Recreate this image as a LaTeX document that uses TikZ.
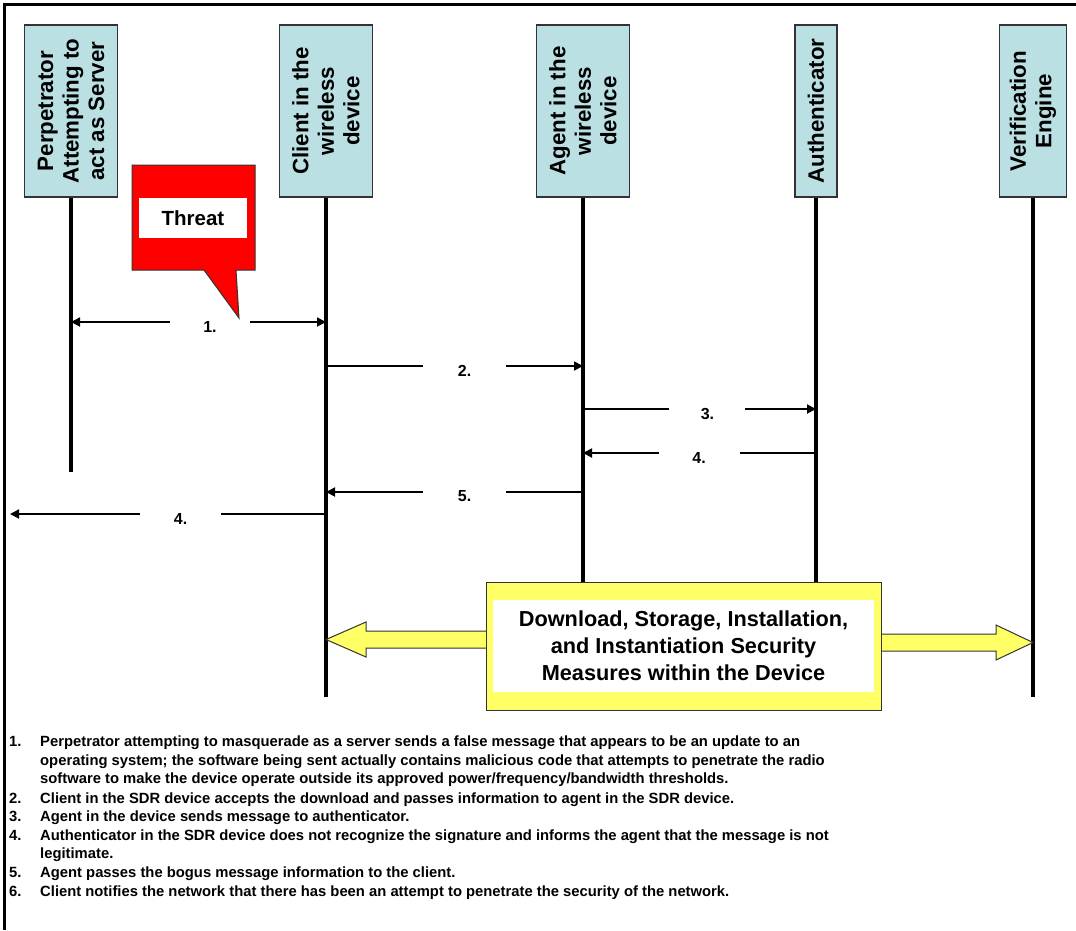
\documentclass[tikz,border=0pt]{standalone}
\usepackage{fontspec}
\setmainfont{Liberation Sans}
\usetikzlibrary{arrows.meta}
\definecolor{lifebox}{RGB}{187,224,227}
\definecolor{boxedge}{RGB}{51,51,51}
\definecolor{threatred}{RGB}{255,0,0}
\definecolor{measureyellow}{RGB}{255,255,102}

\begin{document}
\begin{tikzpicture}[x=1pt,y=-1pt,
  >={Triangle[length=9pt,width=9pt]},
  actor/.style={draw=boxedge, line width=1.4pt, fill=lifebox, rotate=90,
    minimum width=172pt, inner sep=0pt, align=center,
    font=\fontsize{22.3}{25.5}\selectfont\bfseries},
  lifeline/.style={line width=3.2pt},
  msg/.style={line width=1.8pt},
  gapbox/.style={fill=white, inner sep=0pt, minimum height=22pt},
  msglabel/.style={inner sep=0pt, yshift=-4.5pt, font=\fontsize{16}{19}\selectfont\bfseries},
  note/.style={anchor=base west, inner sep=0pt, font=\fontsize{14.8}{18}\selectfont\bfseries},
  blockarrow/.style={draw=boxedge, line width=1pt, fill=measureyellow, line join=miter},
]
\useasboundingbox (0,0) rectangle (1076,930);

% frame (top and left edges)
\draw[line width=3pt] (4.5,930) -- (4.5,4.5) -- (1076,4.5);

% participants
\node[actor, minimum height=93pt] (perp)   at (71,111)   {Perpetrator\\Attempting to\\act as Server};
\node[actor, minimum height=93pt] (client) at (326,111)  {Client in the\\wireless\\device};
\node[actor, minimum height=93pt] (agent)  at (583,111)  {Agent in the\\wireless\\device};
\node[actor, minimum height=42pt] (auth)   at (816,111)  {Authenticator};
\node[actor, minimum height=67pt] (verif)  at (1033,111) {Verification\\Engine};

% lifeline ends
\coordinate (perpEnd)   at (71,472);
\coordinate (clientEnd) at (326,697);
\coordinate (agentEnd)  at (583,582);
\coordinate (authEnd)   at (816,582);
\coordinate (verifEnd)  at (1033,697);

\draw[lifeline] (perp.west)   -- (perpEnd);
\draw[lifeline] (client.west) -- (clientEnd);
\draw[lifeline] (agent.west)  -- (agentEnd);
\draw[lifeline] (auth.west)   -- (authEnd);
\draw[lifeline] (verif.west)  -- (verifEnd);

% message rows
\coordinate (r1) at (0,322);
\coordinate (r2) at (0,366);
\coordinate (r3) at (0,409);
\coordinate (r4) at (0,453);
\coordinate (r5) at (0,492);
\coordinate (r6) at (0,514);
\coordinate (netEdge) at (10,514);

\draw[msg,<->] (perp.west |- r1) -- node[pos=0.545, gapbox, minimum width=80pt,
  label={[msglabel]center:1.}] {} (client.west |- r1);
\draw[msg,->] (client.west |- r2) -- node[pos=0.539, gapbox, minimum width=83pt,
  label={[msglabel]center:2.}] {} (agent.west |- r2);
\draw[msg,->] (agent.west |- r3) -- node[pos=0.534, gapbox, minimum width=76pt,
  label={[msglabel]center:3.}] {} (auth.west |- r3);
\draw[msg,->] (auth.west |- r4) -- node[pos=0.502, gapbox, minimum width=81pt,
  label={[msglabel]center:4.}] {} (agent.west |- r4);
\draw[msg,->] (agent.west |- r5) -- node[pos=0.461, gapbox, minimum width=83pt,
  label={[msglabel]center:5.}] {} (client.west |- r5);
\draw[msg,->] (client.west |- r6) -- node[pos=0.46, gapbox, minimum width=81pt,
  label={[msglabel]center:4.}] {} (netEdge);

% threat callout
\draw[draw=boxedge, line width=1pt, fill=threatred, line join=miter]
  (132,165) -- (255,165) -- (255,270) -- (236,270) -- (239,318)
  -- (204,270) -- (132,270) -- cycle;
\node[fill=white, minimum width=108pt, minimum height=40pt, inner sep=0pt,
  font=\fontsize{20.5}{24}\selectfont\bfseries] (threat) at (193,218) {Threat};

% block arrows from the security measures box
\coordinate (leftTip)  at (326,639.5);
\coordinate (rightTip) at (1033,642.5);
\draw[blockarrow] (490,631) -- (366,631) -- (366,622) -- (leftTip)
  -- (366,657) -- (366,648) -- (490,648);
\draw[blockarrow] (878,634) -- (996,634) -- (996,625) -- (rightTip)
  -- (996,660) -- (996,651) -- (878,651);

% security measures box
\node[draw=boxedge, line width=1pt, fill=measureyellow, minimum width=395pt,
  minimum height=128pt, inner sep=0pt] (measures) at (684,646) {};
\node[fill=white, minimum width=381pt, minimum height=92pt, inner sep=0pt,
  align=center, font=\fontsize{21.7}{27}\selectfont\bfseries] (measuresText) at (683.5,646)
  {Download, Storage, Installation,\\and Instantiation Security\\Measures within the Device};

% numbered notes
\foreach \num/\yy in {1./746, 2./803, 3./821, 4./840, 5./877, 6./896}
  \node[note] at (9,\yy) {\num};
\node[note] (n1a) at (40,746) {Perpetrator attempting to masquerade as a server sends a false message that appears to be an update to an};
\node[note] (n1b) at (40,765) {operating system; the software being sent actually contains malicious code that attempts to penetrate the radio};
\node[note] (n1c) at (40,783) {software to make the device operate outside its approved power/frequency/bandwidth thresholds.};
\node[note] (n2)  at (40,803) {Client in the SDR device accepts the download and passes information to agent in the SDR device.};
\node[note] (n3)  at (40,821) {Agent in the device sends message to authenticator.};
\node[note] (n4a) at (40,840) {Authenticator in the SDR device does not recognize the signature and informs the agent that the message is not};
\node[note] (n4b) at (40,858) {legitimate.};
\node[note] (n5)  at (40,877) {Agent passes the bogus message information to the client.};
\node[note] (n6)  at (40,896) {Client notifies the network that there has been an attempt to penetrate the security of the network.};
\end{tikzpicture}
\end{document}
